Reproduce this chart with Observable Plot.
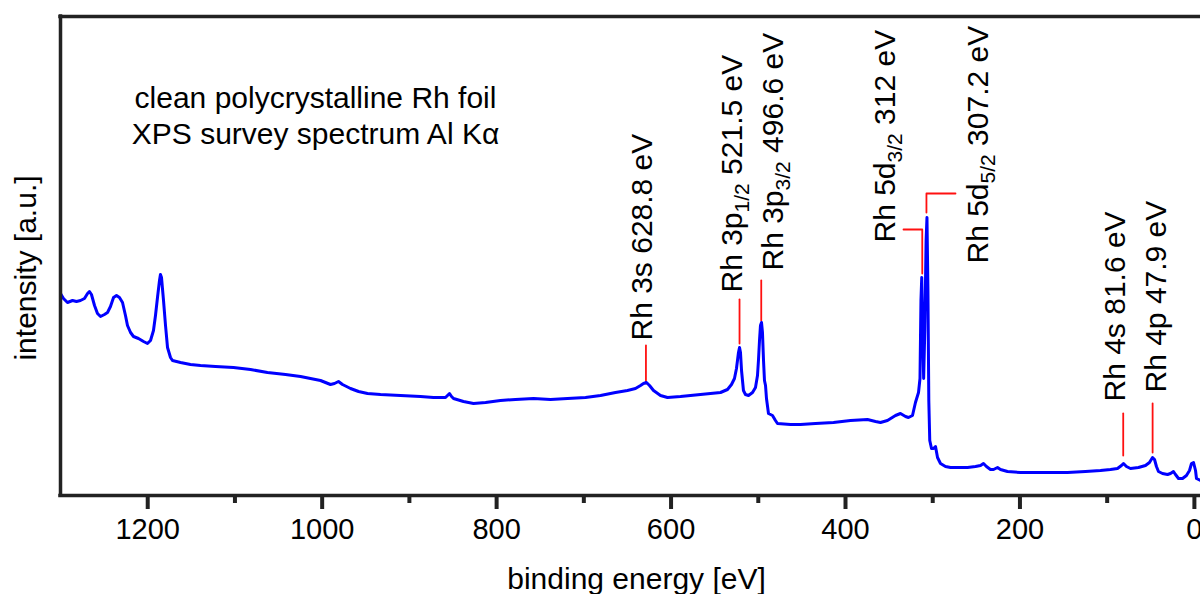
<!DOCTYPE html>
<html><head><meta charset="utf-8">
<script src="https://cdn.jsdelivr.net/npm/d3@7"></script>
<script src="https://cdn.jsdelivr.net/npm/@observablehq/plot@0.6"></script>
<style>
html,body{margin:0;padding:0;background:#fff;}
#chart svg{display:block;}
</style></head><body><div id="chart"></div>
<script>
// XPS survey spectrum (binding energy in eV, intensity in arbitrary units)
const energy = [1300,1296.6,1292.0,1286.2,1281.7,1277.1,1272.5,1269.0,1266.8,1264.5,1261.0,1257.6,1254.1,1249.6,1246.1,1242.7,1239.2,1235.8,1232.4,1228.9,1225.5,1223.2,1219.7,1216.3,1210.6,1204.8,1200.3,1196.8,1193.4,1191.1,1188.8,1186.5,1185.4,1184.2,1183.1,1181.9,1179.6,1177.3,1173.9,1171.6,1162.4,1151.0,1139.5,1122.3,1101.7,1082.2,1062.7,1042.0,1024.8,1013.4,1001.9,996.2,990.5,985.9,981.3,976.7,967.5,958.3,948.0,933.1,910.2,887.3,872.4,858.6,856.3,854.0,851.7,849.4,838.0,826.5,812.7,795.6,778.4,757.7,738.2,718.7,698.1,680.9,663.7,650.0,640.8,635.0,631.6,628.2,624.7,620.1,612.1,604.1,589.2,566.3,554.8,543.3,535.3,530.7,527.3,525.0,522.7,521.5,520.4,519.2,517.0,514.7,511.2,506.6,503.2,500.9,499.8,498.6,497.5,496.3,495.2,494.0,492.9,491.7,490.6,488.3,486.0,483.7,480.3,478.0,463.1,451.6,434.4,413.8,394.3,374.8,365.6,359.9,351.9,342.7,337.0,331.2,327.8,323.2,319.8,316.3,314.6,313.5,312.6,311.5,310.4,309.1,307.6,306.6,305.5,304.5,303.4,301.4,299.1,296.8,294.5,291.1,285.4,279.6,268.2,260.1,251.0,245.2,241.8,238.4,233.8,230.3,225.7,222.3,214.3,199.4,184.5,165.0,145.5,124.9,107.7,96.2,88.2,83.6,81.3,77.9,73.3,64.1,56.1,51.5,48.0,45.7,43.5,41.2,36.6,30.8,27.4,24.0,21.7,18.2,13.6,9.1,5.6,3.3,1.0,-1.3,-2.4,-4.7,-7.0];
const intensity = [202,197,193,195,194,195,197,202,204,201,190,182,179,181,183,189,198,200,198,193,180,170,163,159,157,154,152,155,165,180,198,215,221,218,207,195,170,148,138,135,133,131,130,129,128,126,123,121,119,117,115,113,111,112,114,111,107,104,102,101,100,99,98,98,100,102,99,97,94,92,93,95,96,97,96,97,98,100,103,105,107,110,112,113,110,105,100,98,99,101,102,103,106,111,117,127,143,148,143,125,105,101,100,103,108,120,135,155,170,173,163,135,115,110,97,82,81,80,75,72,71,71,72,73,75,76,74,73,75,80,82,79,78,80,93,103,117,195,218,165,117,165,255,278,205,95,55,47,47,49,38,32,29,28,28,28,29,30,32,29,26,26,28,26,24,23,23,23,23,24,25,26,27,30,32,29,27,28,30,33,38,36,29,24,22,21,22,24,21,17,17,20,25,32,33,25,17,16,15];

// Peak annotations
const peakNames = ["Rh 3s","Rh 3p","Rh 3p","Rh 5d","Rh 5d","Rh 4s","Rh 4p"];
const peakSubs = ["","1/2","3/2","3/2","5/2","",""];
const peakEnergies = [628.8,521.5,496.6,312,307.2,81.6,47.9];
const labelEnergy = [621.3,519.2,471.1,342.7,237.2,79.0,32.0];
const labelBase = [155,203,225,253,232,94,103];
const leaderTop = [150,196,215,266,302,82,92];
const leaderBottom = [112,152,175,222,283,40,43];
const bracketEnd = [null,null,null,333.5,273.9,null,null];

const xTicks = [1200,1000,800,600,400,200,0];
const xMinorTicks = [1100,900,700,500,300,100];
const noteLines = ["clean polycrystalline Rh foil","XPS survey spectrum Al Kα"];
const xLabel = "binding energy [eV]";
const yLabel = "intensity [a.u.]";

const spectrum = energy.map((e, i) => ({e, v: intensity[i]}));
const labels = peakNames.map((n, i) => ({
  text: peakSubs[i] ? `${n}_{${peakSubs[i]}} ${peakEnergies[i]} eV` : `${n} ${peakEnergies[i]} eV`,
  e: labelEnergy[i], v: labelBase[i]
}));
const leaders = [];
peakNames.forEach((n, i) => {
  if (bracketEnd[i] != null) leaders.push({id: i, e: bracketEnd[i], v: leaderTop[i]});
  leaders.push({id: i, e: peakEnergies[i], v: leaderTop[i]});
  leaders.push({id: i, e: peakEnergies[i], v: leaderBottom[i]});
});

const frameColor = "#222";
const plot = Plot.plot({
  width: 1200, height: 594,
  marginTop: 16, marginBottom: 99, marginLeft: 60, marginRight: 0,
  style: {fontFamily: "'Liberation Sans', Arial, sans-serif", fontSize: "29px", color: "black", background: "white"},
  x: {domain: [1300, -7]},
  y: {domain: [0, 479], axis: null},
  marks: [
    Plot.line(leaders, {x: "e", y: "v", z: "id", stroke: "#ff1010", strokeWidth: 1.8, curve: "linear"}),
    Plot.line(spectrum, {x: "e", y: "v", stroke: "#0000ff", strokeWidth: 3, strokeLinejoin: "round"}),
    Plot.ruleY([479], {stroke: frameColor, strokeWidth: 3.5, strokeLinecap: "square"}),
    Plot.ruleY([0], {stroke: frameColor, strokeWidth: 3.5, strokeLinecap: "square"}),
    Plot.ruleX([1300], {stroke: frameColor, strokeWidth: 3.5, strokeLinecap: "square"}),
    Plot.axisX(xTicks, {anchor: "bottom", tickSize: 14, tickPadding: 9, fontSize: 29, stroke: frameColor, strokeWidth: 4, fill: "black", label: null, tickFormat: d3.format("d")}),
    Plot.axisX(xMinorTicks, {anchor: "bottom", tickSize: 8, stroke: frameColor, strokeWidth: 4, label: null, tickFormat: () => ""}),
    Plot.text(labels, {x: "e", y: "v", text: "text", rotate: -90, textAnchor: "start", lineAnchor: "bottom", fontSize: 30, fill: "black"}),
    Plot.text([noteLines.join("\n")], {frameAnchor: "top-left", dx: 255, dy: 127, textAnchor: "middle", lineAnchor: "bottom", lineHeight: 1.2, fontSize: 30, fill: "black"}),
    Plot.text([xLabel], {frameAnchor: "bottom", dx: 6, dy: 93, lineAnchor: "bottom", fontSize: 30, fill: "black"}),
    Plot.text([yLabel], {frameAnchor: "left", dx: -25, dy: 12, rotate: -90, textAnchor: "middle", lineAnchor: "bottom", fontSize: 30, fill: "black"})
  ]
});

// turn "_{...}" into subscript tspans
d3.select(plot).selectAll("text").each(function () {
  if (this.querySelector("tspan")) return;
  const t = this.textContent;
  const m = t.match(/^(.*)_\{(.*?)\}(.*)$/);
  if (!m) return;
  const el = d3.select(this);
  el.text(null);
  el.append("tspan").text(m[1]);
  el.append("tspan").attr("dy", 7).attr("font-size", 21).text(m[2]);
  el.append("tspan").attr("dy", -7).text(m[3]);
});

document.getElementById("chart").appendChild(plot);
</script>
</body></html>
